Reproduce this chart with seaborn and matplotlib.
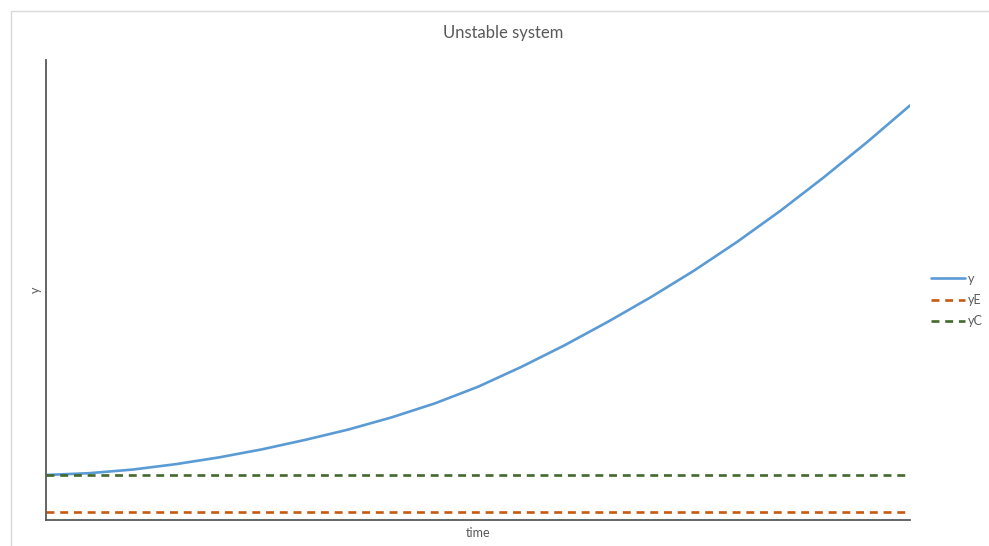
import matplotlib
matplotlib.use("Agg")
import matplotlib.pyplot as plt
import matplotlib.patches as mpatches
import numpy as np
import pandas as pd
import seaborn as sns

# Simulated response of an unstable system
time = [0, 5, 10, 15, 20, 25, 30, 35, 40, 45, 50, 55, 60, 65, 70, 75, 80, 85, 90, 95, 100]
y = [1.00, 1.04, 1.12, 1.24, 1.39, 1.57, 1.78, 2.01, 2.28, 2.59, 2.96,
     3.40, 3.88, 4.40, 4.95, 5.54, 6.18, 6.87, 7.61, 8.39, 9.21]
yE = [0.18] * len(time)
yC = [1.00] * len(time)

series_names = ["y", "yE", "yC"]
series_colors = {"y": "#5B9BD5", "yE": "#C55A11", "yC": "#43682B"}
series_dashes = {"y": "", "yE": (3, 2.2), "yC": (3, 2.2)}

df = pd.concat([
    pd.DataFrame({"time": time, "value": vals, "series": name})
    for name, vals in zip(series_names, [y, yE, yC])
], ignore_index=True)

sns.set_theme(style="white")
plt.rcParams["font.family"] = ["Lato", "DejaVu Sans"]

fig = plt.figure(figsize=(9.89, 5.46), dpi=100)
ax = fig.add_axes([46 / 989, 26 / 546, 864 / 989, 460 / 546])

sns.lineplot(data=df, x="time", y="value", hue="series", style="series",
             hue_order=series_names, style_order=series_names,
             palette=series_colors, dashes=series_dashes,
             linewidth=1.9, ax=ax, legend=True)
for line in ax.get_lines():
    line.set_solid_joinstyle("round")

ax.set_xlim(0, 100)
ax.set_ylim(0, 10.22)
ax.set_xticks([])
ax.set_yticks([])
ax.set_xlabel("time", fontsize=9, color="#595959", labelpad=5)
ax.set_ylabel("y", fontsize=9, color="#595959", labelpad=3)

fig.text(503 / 989, 1 - 33 / 546, "Unstable system", fontsize=12,
         color="#595959", ha="center", va="center")

for side in ["top", "right"]:
    ax.spines[side].set_visible(False)
for side in ["left", "bottom"]:
    ax.spines[side].set_color("#595959")
    ax.spines[side].set_linewidth(1.3)

leg = ax.legend(loc="center left", bbox_to_anchor=(931 / 989, 1 - 300 / 546),
                bbox_transform=fig.transFigure, frameon=False, fontsize=9,
                handlelength=2.7, handletextpad=0.25, labelspacing=0.75,
                borderpad=0, borderaxespad=0)
for text in leg.get_texts():
    text.set_color("#595959")

# Chart area border
fig.patches.append(mpatches.Rectangle((11 / 989, -0.1), 2.0, 1 - 11 / 546 + 0.1,
                                      transform=fig.transFigure, fill=False,
                                      edgecolor="#D9D9D9", linewidth=1.0))

fig.savefig("out.png", dpi=100)
